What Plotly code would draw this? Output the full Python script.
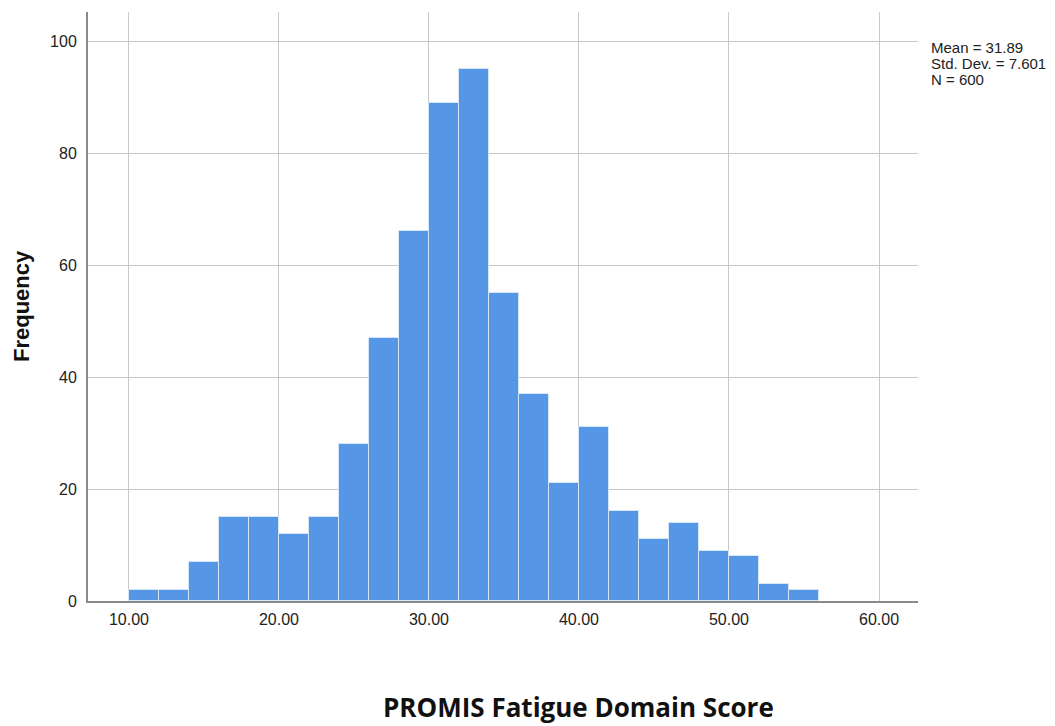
import plotly.graph_objects as go

bin_starts = [10, 12, 14, 16, 18, 20, 22, 24, 26, 28, 30, 32, 34, 36, 38, 40, 42, 44, 46, 48, 50, 52, 54]
frequencies = [2, 2, 7, 15, 15, 12, 15, 28, 47, 66, 89, 95, 55, 37, 21, 31, 16, 11, 14, 9, 8, 3, 2]
bin_width = 2
x_ticks = [10, 20, 30, 40, 50, 60]
x_tick_labels = ["10.00", "20.00", "30.00", "40.00", "50.00", "60.00"]
y_ticks = [0, 20, 40, 60, 80, 100]
stats_lines = ["Mean = 31.89", "Std. Dev. = 7.601", "N = 600"]

centers = [s + bin_width / 2 for s in bin_starts]

fig = go.Figure()
fig.add_trace(go.Bar(
    x=centers, y=frequencies, width=[bin_width] * len(centers),
    marker=dict(color="#5596e6", line=dict(color="#d6e6f9", width=1)),
    hoverinfo="x+y",
))

OFF = 8  # page body margin
W, H = 1055 - OFF, 726 - OFF
L, R, T, B = 88 - OFF, 918 - OFF, 12 - OFF, 601 - OFF


def px(x):
    return (x - OFF - L) / (R - L)


def py(y):
    return 1 - (y - OFF - T) / (B - T)


annotations = []
for i, line in enumerate(stats_lines):
    annotations.append(dict(
        text=line, xref="paper", yref="paper", x=px(929), y=py(47 + 16.5 * i),
        xanchor="left", yanchor="middle", align="left", showarrow=False,
        font=dict(size=15, color="#222")))
annotations.append(dict(
    text="<b>Frequency</b>", xref="paper", yref="paper",
    x=px(21), y=py(306), textangle=-90, xanchor="center", yanchor="middle",
    showarrow=False, font=dict(size=22, color="#111")))
annotations.append(dict(
    text="<b>PROMIS Fatigue Domain Score</b>", xref="paper", yref="paper",
    x=px(578), y=py(707), xanchor="center", yanchor="middle",
    showarrow=False, font=dict(family="Open Sans, Liberation Sans, sans-serif", size=26, color="#111")))

fig.update_layout(
    width=W, height=H,
    margin=dict(l=L, r=W - R, t=T, b=H - B, autoexpand=False),
    plot_bgcolor="white", paper_bgcolor="white",
    showlegend=False,
    bargap=0,
    font=dict(family="Liberation Sans, Arial, sans-serif", size=12, color="#222"),
    xaxis=dict(
        range=[7.27, 62.6], tickvals=x_ticks, ticktext=x_tick_labels,
        showgrid=True, gridcolor="#c8c8c8", gridwidth=1,
        showline=True, linecolor="#8a8a8a", linewidth=2,
        ticks="", zeroline=False, ticklabelstandoff=3,
        tickfont=dict(size=16, color="#222"),
    ),
    yaxis=dict(
        range=[0, 105.2], tickvals=y_ticks,
        showgrid=True, gridcolor="#c8c8c8", gridwidth=1,
        showline=True, linecolor="#8a8a8a", linewidth=2,
        ticks="", zeroline=False, ticklabelstandoff=6,
        tickfont=dict(size=16, color="#222"),
    ),
    annotations=annotations,
)

fig.write_html("out.html")
